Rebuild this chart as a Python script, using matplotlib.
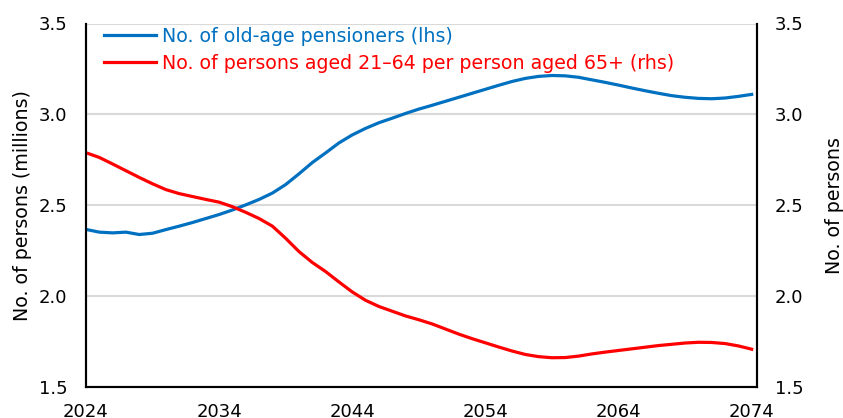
import matplotlib
matplotlib.use('Agg')
import matplotlib.pyplot as plt

plt.rcParams['font.family'] = ['DejaVu Sans']

#data
years = list(range(2024, 2075))
pensioners = [2.367, 2.352, 2.348, 2.352, 2.339, 2.346, 2.366, 2.385, 2.405, 2.427,
              2.449, 2.474, 2.502, 2.532, 2.567, 2.614, 2.673, 2.735, 2.788, 2.843,
              2.887, 2.923, 2.954, 2.979, 3.005, 3.029, 3.050, 3.072, 3.094, 3.116,
              3.138, 3.160, 3.181, 3.198, 3.209, 3.214, 3.212, 3.204, 3.190, 3.176,
              3.161, 3.145, 3.130, 3.116, 3.103, 3.094, 3.088, 3.086, 3.090, 3.099,
              3.110]
support_ratio = [2.789, 2.763, 2.727, 2.690, 2.653, 2.618, 2.586, 2.564, 2.548, 2.532,
                 2.517, 2.492, 2.461, 2.427, 2.385, 2.318, 2.245, 2.185, 2.135, 2.078,
                 2.023, 1.977, 1.943, 1.917, 1.891, 1.870, 1.847, 1.819, 1.791, 1.766,
                 1.743, 1.720, 1.698, 1.679, 1.667, 1.661, 1.662, 1.670, 1.682, 1.692,
                 1.701, 1.710, 1.719, 1.728, 1.735, 1.742, 1.746, 1.745, 1.739, 1.726,
                 1.708]
xticks = [2024, 2034, 2044, 2054, 2064, 2074]
yticks = [1.5, 2.0, 2.5, 3.0, 3.5]

BLUE = '#0070C0'
RED = '#FF0000'
FS = 13      # tick labels
FS_TXT = 13.7  # legend and axis titles

fig = plt.figure(figsize=(8.43, 4.18), dpi=100)
ax = fig.add_axes([86/843, 1 - 387/418, (757-86)/843, (387-23.5)/418])
ax2 = ax.twinx()

l1, = ax.plot(years, pensioners, color=BLUE, lw=2.3, label='No. of old-age pensioners (lhs)')
l2, = ax2.plot(years, support_ratio, color=RED, lw=2.3,
               label='No. of persons aged 21\u201364 per person aged 65+ (rhs)')

for a in (ax, ax2):
    a.set_ylim(1.5, 3.5)
    a.set_yticks(yticks)
    a.set_yticklabels([f'{v:.1f}' for v in yticks])
    a.set_xlim(2024, 2074.4)
    a.tick_params(length=0, labelsize=FS)
    a.spines['top'].set_visible(False)
    for s in ('left', 'right', 'bottom'):
        a.spines[s].set_linewidth(1.5)
        a.spines[s].set_color('black')

ax.set_xticks(xticks)
ax.set_xticklabels([str(x) for x in xticks])
ax.tick_params(axis='x', pad=11.5)
ax.tick_params(axis='y', pad=13.5)
ax2.tick_params(axis='y', pad=13)
ax.grid(axis='y', color='#D9D9D9', lw=1.5)
ax.set_axisbelow(True)

ax.set_ylabel('No. of persons (millions)', fontsize=FS_TXT, labelpad=5)
ax2.set_ylabel('No. of persons', fontsize=FS_TXT, labelpad=15)

ax2.legend(handles=[l1, l2], loc='upper left', bbox_to_anchor=(0.027, 0.99),
           frameon=False, fontsize=FS_TXT, labelcolor='linecolor', handlelength=2.75,
           handletextpad=0.28, labelspacing=0.42, borderaxespad=0, borderpad=0)

fig.savefig('out.png', dpi=100)
